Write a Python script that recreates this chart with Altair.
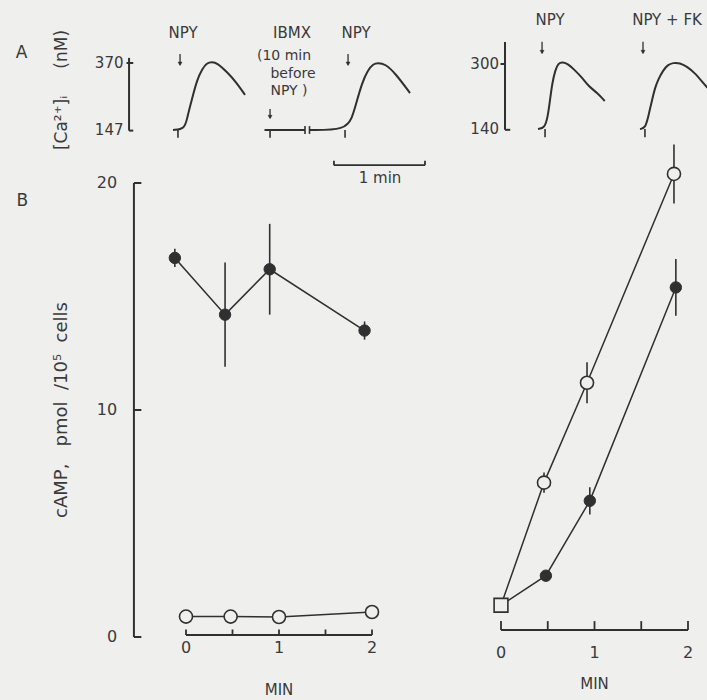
import altair as alt
import pandas as pd

BG = "#efefed"
INK = "#303030"
TXT = "#3a3a3a"
FONT = "DejaVu Sans"
NB = "\u00a0"

# ---------------- Panel A: [Ca2+]i traces (time in s, concentration in nM) ----------------
npy_t = [0, 8, 9.5, 12.5, 16, 19.5, 22.5, 26, 29.5, 36, 42.5, 48]
npy_ca = [147, 150, 190, 247, 314, 350, 370, 374, 370, 340, 304, 264]
ibmx_t = [61, 88]
ibmx_ca = [147, 147]
ibmx_npy_t = [91, 115, 119.5, 121.5, 126, 130, 133.5, 136.5, 141.5, 148, 158]
ibmx_npy_ca = [147, 147, 190, 224, 304, 347, 367, 370, 367, 337, 270]

npy2_t = [0, 4.5, 6.5, 8, 9.5, 11.5, 13.5, 16.5, 20, 24.5, 29.5, 33.5, 39.5, 44.5]
npy2_ca = [140, 142, 170, 211, 253, 285, 302, 305, 300, 285, 266, 246, 229, 209]
npyfk_t = [68, 71.5, 73.5, 76, 78, 80, 83.5, 86.5, 90, 94.5, 99.5, 104.5, 109.5, 113]
npyfk_ca = [140, 142, 170, 211, 241, 261, 285, 298, 303, 303, 293, 278, 256, 241]

left_events_t = [3.3, 64.7, 114.7]      # additions marked under the baseline
left_break_t = [88, 91]                  # time break in the IBMX record
right_events_t = [4.7, 71.3]

# ---------------- Panel B: cAMP (pmol / 10^5 cells) vs time (min) ----------------
min_left_filled = [-0.12, 0.42, 0.90, 1.92]
camp_left_filled = [16.7, 14.2, 16.2, 13.5]
sem_left_filled = [0.4, 2.3, 2.0, 0.4]
min_left_open = [0.0, 0.48, 1.0, 2.0]
camp_left_open = [0.9, 0.9, 0.88, 1.1]

min_basal = [0.0]
camp_basal = [1.4]
min_right_open = [0.46, 0.92, 1.85]
camp_right_open = [6.8, 11.2, 20.4]
sem_right_open = [0.45, 0.9, 1.3]
min_right_filled = [0.48, 0.95, 1.87]
camp_right_filled = [2.7, 6.0, 15.4]
sem_right_filled = [0.2, 0.6, 1.25]

camp_ticks = [0, 10, 20]
min_ticks = [0, 0.5, 1, 1.5, 2]
min_labels = [0, 1, 2]


def sc(domain, rng):
    return alt.Scale(domain=domain, range=rng, nice=False, zero=False)


class Panel:
    def __init__(self, sx, sy):
        self.sx, self.sy = sx, sy
        self.layers = []

    def X(self, f):
        return alt.X(f, type="quantitative", scale=self.sx, axis=None)

    def Y(self, f):
        return alt.Y(f, type="quantitative", scale=self.sy, axis=None)

    def line(self, xs, ys, width=1.6, interp="linear"):
        df = pd.DataFrame({"x": xs, "y": ys, "i": range(len(xs))})
        self.layers.append(
            alt.Chart(df).mark_line(color=INK, strokeWidth=width, interpolate=interp)
            .encode(x=self.X("x"), y=self.Y("y"), order="i:Q"))

    def rules(self, x, x2, y, y2, width=1.6):
        df = pd.DataFrame({"x": x, "x2": x2, "y": y, "y2": y2})
        self.layers.append(
            alt.Chart(df).mark_rule(color=INK, strokeWidth=width)
            .encode(x=self.X("x"), x2=alt.X2("x2"), y=self.Y("y"), y2=alt.Y2("y2")))

    def text(self, xs, ys, labels, size=15, align="center", angle=0, weight="normal"):
        df = pd.DataFrame({"x": xs, "y": ys, "label": labels})
        kw = dict(font=FONT, fontSize=size, color=TXT, align=align, baseline="middle",
                  fontWeight=weight)
        if angle:
            kw["angle"] = angle
        self.layers.append(
            alt.Chart(df).mark_text(**kw)
            .encode(x=self.X("x"), y=self.Y("y"), text="label:N"))

    def points(self, xs, ys, shape="circle", filled=True, size=130):
        df = pd.DataFrame({"x": xs, "y": ys})
        if filled:
            m = alt.Chart(df).mark_point(shape=shape, filled=True, fill=INK, stroke=INK,
                                         strokeWidth=1, size=size, opacity=1)
        else:
            m = alt.Chart(df).mark_point(shape=shape, filled=True, fill=BG, stroke=INK,
                                         strokeWidth=1.6, size=size, opacity=1)
        self.layers.append(m.encode(x=self.X("x"), y=self.Y("y")))

    def arrows(self, xs, top, bottom):
        n = len(xs)
        self.rules(xs, xs, [top] * n, [bottom] * n, 1.3)
        df = pd.DataFrame({"x": xs, "y": [bottom] * n})
        self.layers.append(
            alt.Chart(df).mark_point(shape="triangle-down", filled=True, fill=INK,
                                     stroke=INK, strokeWidth=0.5, size=16, opacity=1,
                                     yOffset=-1)
            .encode(x=self.X("x"), y=self.Y("y")))

    def errorbars(self, xs, ys, errs, width=1.6):
        lo = [y - e for y, e in zip(ys, errs)]
        hi = [y + e for y, e in zip(ys, errs)]
        self.rules(xs, xs, lo, hi, width)

    def chart(self):
        return alt.layer(*self.layers)


# ---------------- A, left group ----------------
A1 = Panel(sc([0, 180], [173, 443]), sc([147, 370], [130, 63]))
A1.line(npy_t, npy_ca, 2, "basis")
A1.line(ibmx_t, ibmx_ca, 2)
A1.line(ibmx_npy_t, ibmx_npy_ca, 2, "basis")
A1.rules(left_events_t, left_events_t, [147] * 3, [121] * 3, 1.6)
A1.rules(left_break_t, left_break_t, [160] * 2, [134] * 2, 1.6)
# calibration bar
A1.rules([-29.3, -31, -29.3], [-29.3, -26.5, -26.5], [387, 370, 145], [145, 370, 145], 2)
A1.text([-33, -33], [370, 147], ["370", "147"], 15, "right")
# 1 min bar
A1.rules([107.3, 107.3, 168], [168, 107.3, 168], [30, 30, 30], [30, 45, 45], 1.8)
A1.text([138], [-14], ["1 min"], 15)
# arrows and labels
A1.arrows([4.7, 116.7], 400, 364)
A1.arrows([64.7], 217, 187)
A1.text([6.7, 122, 79.3], [470, 470, 470], ["NPY", "NPY", "IBMX"], 15)
A1.text([74, 80, 77.3], [392, 334, 277], ["(10 min", "before", "NPY )"], 14)
A1.text([-74], [280], ["[Ca²⁺]ᵢ" + NB * 5 + "(nM)"], 17, angle=270)
A1.text([-101], [403], ["A"], 17)

# ---------------- A, right group ----------------
A2 = Panel(sc([0, 120], [538, 718]), sc([140, 300], [129, 64]))
A2.line(npy2_t, npy2_ca, 2, "basis")
A2.line(npyfk_t, npyfk_ca, 2, "basis")
A2.rules(right_events_t, right_events_t, [140] * 2, [120] * 2, 1.6)
A2.rules([-22, -25, -22], [-22, -22, -18.5], [354, 300, 138], [138, 300, 138], 2)
A2.text([-26, -26], [300, 140], ["300", "140"], 15, "right")
A2.arrows([2.7, 70], 355, 327)
A2.text([8, 86], [408, 408], ["NPY", "NPY + FK"], 15)

# ---------------- B, left panel ----------------
B1 = Panel(sc([0, 2], [186, 372]), sc([0, 20], [637, 183]))
n = len(camp_ticks)
B1.rules([-0.56], [-0.56], [0], [20], 2)
B1.rules([-0.56] * n, [-0.48] * n, camp_ticks, camp_ticks, 2)
B1.text([-0.74] * n, camp_ticks, [str(v) for v in camp_ticks], 16, "right")
B1.rules([0], [2], [0.09], [0.09], 2)
B1.rules(min_ticks, min_ticks, [0.09] * len(min_ticks), [0.33] * len(min_ticks), 1.8)
B1.text(min_labels, [-0.5] * 3, [str(v) for v in min_labels], 16)
B1.text([1], [-2.35], ["MIN"], 15)
B1.text([-1.33], [10], ["cAMP," + NB * 3 + "pmol" + NB * 2 + "/10⁵" + NB * 2 + "cells"], 18, angle=270)
B1.text([-1.76], [19.2], ["B"], 17)
B1.line(min_left_filled, camp_left_filled, 1.6)
B1.line(min_left_open, camp_left_open, 1.6)
B1.errorbars(min_left_filled, camp_left_filled, sem_left_filled)
B1.points(min_left_filled, camp_left_filled, filled=True, size=130)
B1.points(min_left_open, camp_left_open, filled=False, size=170)

# ---------------- B, right panel ----------------
B2 = Panel(sc([0, 2], [501, 688]), sc([0, 20], [637, 183]))
B2.rules([0], [2], [0.31], [0.31], 2)
B2.rules(min_ticks, min_ticks, [0.31] * len(min_ticks), [0.7] * len(min_ticks), 1.8)
B2.text(min_labels, [-0.7] * 3, [str(v) for v in min_labels], 16)
B2.text([1], [-2.05], ["MIN"], 15)
B2.line(min_basal + min_right_open, camp_basal + camp_right_open, 1.5)
B2.line(min_basal + min_right_filled, camp_basal + camp_right_filled, 1.5)
B2.errorbars(min_right_open, camp_right_open, sem_right_open)
B2.errorbars(min_right_filled, camp_right_filled, sem_right_filled)
B2.points(min_right_filled, camp_right_filled, filled=True, size=130)
B2.points(min_right_open, camp_right_open, filled=False, size=170)
B2.points(min_basal, camp_basal, shape="square", filled=False, size=190)

chart = (
    alt.layer(A1.chart(), A2.chart(), B1.chart(), B2.chart())
    .resolve_scale(x="independent", y="independent")
    .properties(width=707, height=700, background=BG, padding=0,
                autosize=alt.AutoSizeParams(type="none"))
    .configure_view(stroke=None)
)

chart.save("out.html", embed_options={"renderer": "svg", "actions": False})
